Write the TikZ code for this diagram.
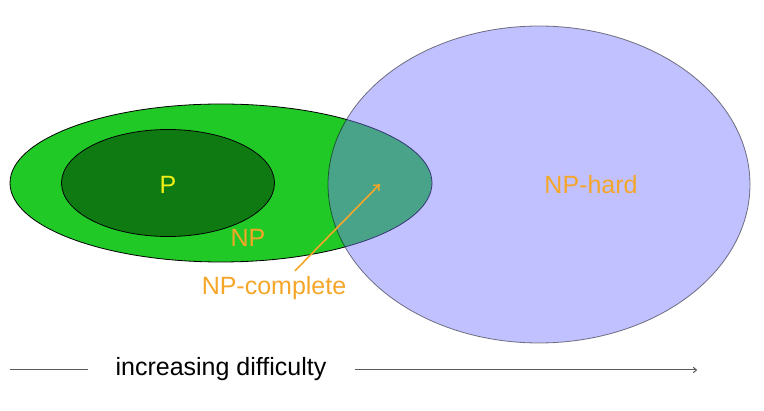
\documentclass[tikz,border=0pt]{standalone}
\usepackage{color}
\usepackage{fontspec}
\setmainfont{Liberation Sans}
\usetikzlibrary{arrows.meta}
\definecolor{npgreen}{RGB}{32,201,38}
\definecolor{pgreen}{RGB}{16,122,18}
\definecolor{hardblue}{RGB}{120,120,255}
\definecolor{labelorange}{RGB}{245,166,40}
\definecolor{pyellow}{RGB}{240,240,20}
\definecolor{axisgray}{RGB}{90,90,90}

\begin{document}
\begin{tikzpicture}[x=1pt,y=-1pt,
		setlabel/.style={font=\fontsize{25}{30}\selectfont, text=labelorange},
		pointer/.style={draw=labelorange, line width=1.6pt, -{To[length=6pt,width=9pt]}},
		axis/.style={draw=axisgray, line width=1pt}]
			\useasboundingbox (0,0) rectangle (764,411);
			\draw [fill=npgreen, line width=0.8pt] (221,183) ellipse [x radius=211, y radius=79];
			\draw [fill=pgreen, line width=0.8pt] (168,183) ellipse [x radius=106.5, y radius=53.5];
			\draw [fill=hardblue, fill opacity=0.46, draw=black, draw opacity=0.5, line width=0.8pt] (539,184.5) ellipse [x radius=211, y radius=158.5];
			\node (p) [font=\fontsize{25}{30}\selectfont, text=pyellow] at (168,185) {P};
			\node (np) [setlabel] at (248,238) {NP};
			\node (nphard) [setlabel] at (591,185) {NP-hard};
			\node (npc) [setlabel] at (274,288) {NP-complete};
			\coordinate (npchead) at (380,184);
			\draw [pointer] ([xshift=21pt,yshift=2pt]npc.north) -- (npchead);
			\node (difficulty) [font=\fontsize{25}{30}\selectfont] at (221,369) {increasing difficulty};
			\coordinate (lstart) at (10,370);
			\coordinate (lend) at (88,370);
			\coordinate (rstart) at (355,370);
			\coordinate (rend) at (697,370);
			\draw [axis] (lstart) -- (lend);
			\draw [axis, -{To[length=4pt,width=6pt]}] (rstart) -- (rend);
	 	\end{tikzpicture}
\end{document}
